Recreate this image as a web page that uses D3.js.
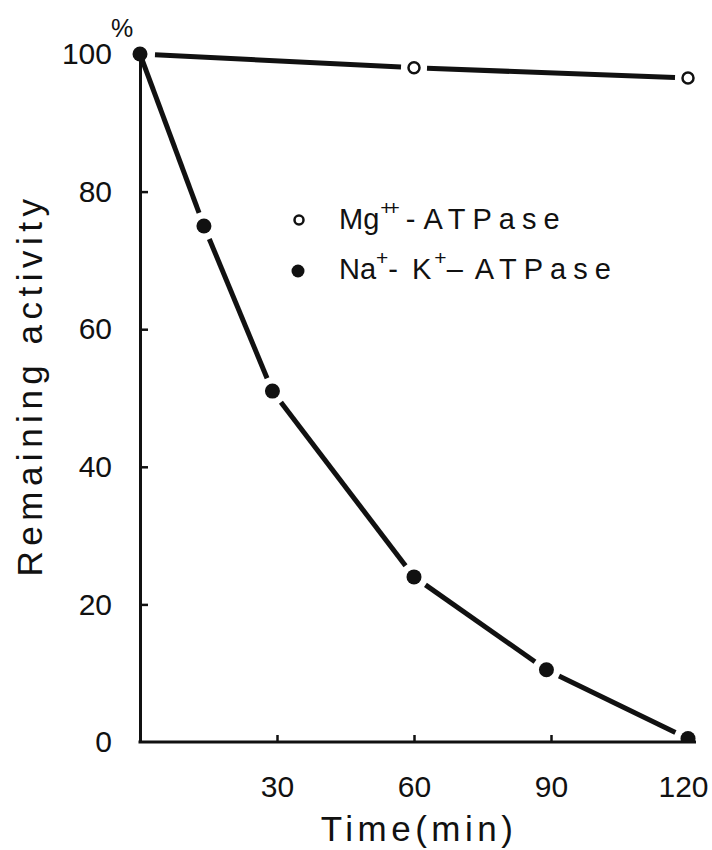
<!DOCTYPE html>
<meta charset="utf-8">
<style>
    body { margin: 0; background: #fff; }
    text { font-family: "Liberation Sans", Arial, sans-serif; fill: #111; }
    .axis path, .axis line { stroke: #111; }
</style>
<svg width="712" height="850"></svg>
<script src="https://cdn.jsdelivr.net/npm/d3@7/dist/d3.min.js"></script>
<script>

    // time points (min) and remaining activity (%)
    var mgTime = [0, 60, 120],
        mgActivity = [100, 98, 96.5];
    var naTime = [0, 14, 29, 60, 89, 120],
        naActivity = [100, 75, 51, 24, 10.5, 0.5];
    var yTicks = [0, 20, 40, 60, 80, 100],
        xTicks = [30, 60, 90, 120];

    var svg = d3.select("svg");

    var x = d3.scaleLinear().domain([0, 120]).range([140, 688]),
        y = d3.scaleLinear().domain([0, 100]).range([742, 54]);

    var mg = mgTime.map(function (t, i) { return {t: t, v: mgActivity[i]}; }),
        na = naTime.map(function (t, i) { return {t: t, v: naActivity[i]}; });

    svg.append("defs").append("clipPath")
        .attr("id", "plot")
        .append("rect")
        .attr("x", 0).attr("y", 0)
        .attr("width", 712).attr("height", y(0));

    // y axis
    var yAxis = svg.append("g")
        .attr("class", "axis")
        .attr("transform", "translate(" + x(0) + ",0)")
        .call(d3.axisLeft(y).tickValues(yTicks).tickSize(-8).tickSizeOuter(0).tickPadding(28));
    yAxis.select(".domain").attr("stroke-width", 3);
    yAxis.selectAll(".tick line")
        .attr("stroke-width", 2.5)
        .filter(function (d) { return d === 0 || d === 100; }).remove();
    yAxis.selectAll(".tick text")
        .attr("font-size", 30)
        .attr("fill", "#111")
        .style("font-family", "Liberation Sans, Arial, sans-serif");

    svg.append("text")
        .attr("x", 111)
        .attr("y", 37)
        .attr("font-size", 25)
        .text("%");

    // x axis
    var xAxis = svg.append("g")
        .attr("class", "axis")
        .attr("transform", "translate(0," + y(0) + ")")
        .call(d3.axisBottom(x).tickValues(xTicks).tickSize(-7).tickSizeOuter(0).tickPadding(34));
    xAxis.select(".domain").remove();
    xAxis.append("line")
        .attr("x1", x(0) - 1.5).attr("x2", x(120) + 8)
        .attr("stroke", "#111").attr("stroke-width", 3);
    xAxis.selectAll(".tick line")
        .attr("stroke-width", 2.5)
        .filter(function (d) { return d === 120; }).remove();
    xAxis.selectAll(".tick text")
        .attr("font-size", 30)
        .attr("fill", "#111")
        .style("font-family", "Liberation Sans, Arial, sans-serif")
        .filter(function (d) { return d === 120; })
        .attr("dx", -5);

    // axis titles
    svg.append("text")
        .attr("transform", "translate(42,385) rotate(-90)")
        .attr("text-anchor", "middle")
        .attr("font-size", 35)
        .attr("letter-spacing", 5.5)
        .text("Remaining activity");

    svg.append("text")
        .attr("x", 419)
        .attr("y", 841)
        .attr("text-anchor", "middle")
        .attr("font-size", 35)
        .attr("letter-spacing", 4.5)
        .text("Time(min)");

    // connecting lines, broken near each marker
    function segments(pts, gap) {
        var out = [];
        for (var i = 1; i < pts.length; i++) {
            var x0 = x(pts[i - 1].t), y0 = y(pts[i - 1].v),
                x1 = x(pts[i].t), y1 = y(pts[i].v),
                len = Math.hypot(x1 - x0, y1 - y0),
                ux = (x1 - x0) / len, uy = (y1 - y0) / len,
                g0 = i === 1 ? gap[0] : gap[1];
            out.push([x0 + ux * g0, y0 + uy * g0, x1 - ux * gap[1], y1 - uy * gap[1]]);
        }
        return out;
    }

    var lines = svg.append("g").attr("clip-path", "url(#plot)");

    lines.selectAll(".mg")
        .data(segments(mg, [15, 13]))
        .enter().append("line")
        .attr("x1", function (d) { return d[0]; })
        .attr("y1", function (d) { return d[1]; })
        .attr("x2", function (d) { return d[2]; })
        .attr("y2", function (d) { return d[3]; })
        .attr("stroke", "#111")
        .attr("stroke-width", 5);

    lines.selectAll(".na")
        .data(segments(na, [3, 14]))
        .enter().append("line")
        .attr("x1", function (d) { return d[0]; })
        .attr("y1", function (d) { return d[1]; })
        .attr("x2", function (d) { return d[2]; })
        .attr("y2", function (d) { return d[3]; })
        .attr("stroke", "#111")
        .attr("stroke-width", 5);

    // markers
    lines.selectAll(".mgpt")
        .data(mg.slice(1))
        .enter().append("circle")
        .attr("cx", function (d) { return x(d.t); })
        .attr("cy", function (d) { return y(d.v); })
        .attr("r", 5.5)
        .attr("fill", "#fff")
        .attr("stroke", "#111")
        .attr("stroke-width", 2.5);

    lines.selectAll(".napt")
        .data(na)
        .enter().append("circle")
        .attr("cx", function (d) { return x(d.t); })
        .attr("cy", function (d) { return y(d.v); })
        .attr("r", 7.5)
        .attr("fill", "#111");

    // legend
    var legend = svg.append("g");

    legend.append("circle")
        .attr("cx", 299).attr("cy", 220).attr("r", 4.5)
        .attr("fill", "#fff").attr("stroke", "#111").attr("stroke-width", 2.5);
    legend.append("circle")
        .attr("cx", 298).attr("cy", 271).attr("r", 6.5)
        .attr("fill", "#111");

    var row1 = legend.append("text").attr("x", 339).attr("y", 229).attr("font-size", 29);
    row1.append("tspan").text("Mg");
    row1.append("tspan").attr("dy", -14).attr("dx", 1).attr("font-size", 21).attr("letter-spacing", -5).text("++");
    row1.append("tspan").attr("dy", 14).attr("dx", 11).text("-");
    row1.append("tspan").attr("dx", 8).attr("letter-spacing", 7).text("ATPase");

    var row2 = legend.append("text").attr("x", 339).attr("y", 279).attr("font-size", 29);
    row2.append("tspan").text("Na");
    row2.append("tspan").attr("dy", -14).attr("font-size", 21).text("+");
    row2.append("tspan").attr("dy", 14).text("-");
    row2.append("tspan").attr("dx", 14).text("K");
    row2.append("tspan").attr("dy", -14).attr("dx", 3).attr("font-size", 21).text("+");
    row2.append("tspan").attr("dy", 14).text("–");
    row2.append("tspan").attr("dx", 12).attr("letter-spacing", 7).text("ATPase");

</script>
